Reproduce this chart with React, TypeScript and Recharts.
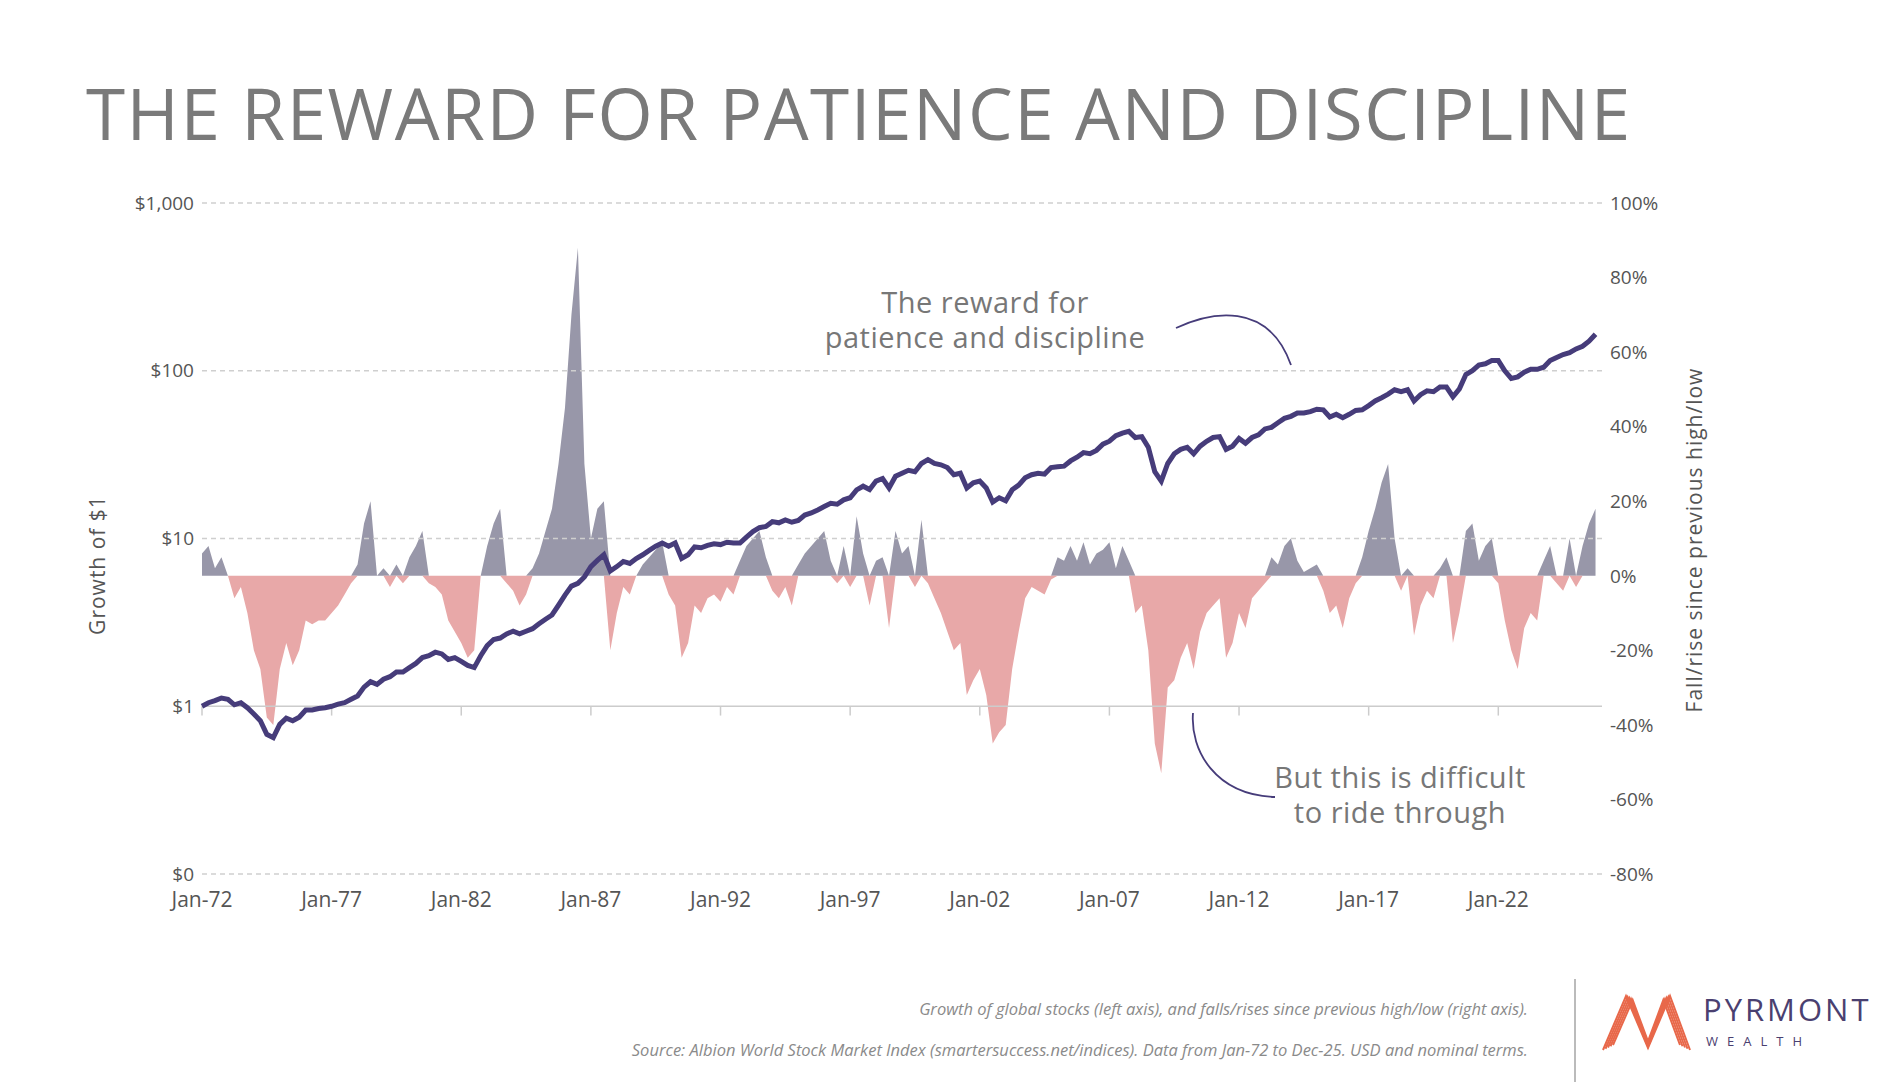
import {
  ComposedChart,
  Area,
  Line,
  XAxis,
  YAxis,
  ReferenceLine,
} from "recharts";

// quarterly, Jan-72 .. Oct-25
const growth: number[] = [
  1.0, 1.05, 1.08, 1.12, 1.1, 1.02, 1.05, 0.98, 0.9, 0.82, 0.68, 0.65,
  0.78, 0.85, 0.82, 0.86, 0.95, 0.95, 0.97, 0.98, 1.0, 1.03, 1.05, 1.1,
  1.15, 1.3, 1.4, 1.35, 1.45, 1.5, 1.6, 1.6, 1.7, 1.8, 1.95, 2.0,
  2.1, 2.05, 1.9, 1.95, 1.85, 1.75, 1.7, 2.0, 2.3, 2.5, 2.55, 2.7,
  2.8, 2.7, 2.8, 2.9, 3.1, 3.3, 3.5, 4.0, 4.6, 5.2, 5.4, 5.9,
  6.8, 7.4, 8.0, 6.4, 6.8, 7.3, 7.1, 7.6, 8.0, 8.5, 9.0, 9.4,
  9.0, 9.4, 7.6, 8.0, 8.9, 8.8, 9.1, 9.3, 9.2, 9.5, 9.4, 9.4,
  10.2, 11.0, 11.6, 11.8, 12.6, 12.4, 12.9, 12.5, 12.8, 13.8, 14.2, 14.8,
  15.5, 16.2, 16.0, 17.0, 17.5, 19.5, 20.5, 19.6, 22.0, 22.8, 20.0, 23.5,
  24.5, 25.5, 25.0, 28.0, 29.5, 28.0, 27.5, 26.5, 24.0, 24.5, 20.0, 21.5,
  22.0, 20.0, 16.5, 17.5, 16.8, 19.5, 20.8, 23.0, 24.0, 24.5, 24.2, 26.5,
  26.8, 27.0, 29.0, 30.5, 32.5, 32.0, 33.5, 36.5, 38.0, 41.0, 42.5, 43.5,
  40.0, 40.5, 35.0, 25.0, 22.0, 28.0, 32.0, 34.0, 35.0, 32.0, 35.5, 38.0,
  40.0, 40.5, 34.0, 35.5, 39.5, 37.0, 40.0, 41.5, 45.0, 46.0, 49.0, 52.0,
  53.5, 56.0, 56.0, 57.0, 59.0, 58.5, 53.0, 55.0, 52.5, 55.0, 58.0, 58.5,
  62.0, 66.0, 69.0, 72.5, 77.0, 75.0, 77.0, 66.0, 72.0, 76.0, 75.0, 80.0,
  80.0, 70.0, 78.0, 95.0, 100, 108, 110, 115, 115, 100, 90, 92,
  98, 102, 102, 105, 115, 120, 125, 128, 135, 140, 150, 165,
];

// fall (-) / rise (+) since previous high/low, %
const swing: number[] = [
  6, 8, 2, 5, 0, -6, -3, -10, -20, -25, -38, -40,
  -25, -18, -24, -20, -12, -13, -12, -12, -10, -8, -5, -2,
  3, 14, 20, 0, 2, -3, 3, -2, 5, 8, 12, -2,
  -3, -5, -12, -15, -18, -22, -20, 0, 8, 14, 18, -2,
  -4, -8, -5, 2, 6, 12, 18, 30, 45, 70, 88, 30,
  10, 18, 20, -20, -10, -3, -5, 0, 3, 5, 7, 9,
  -5, -8, -22, -18, -8, -10, -6, -5, -7, -3, -5, 4,
  8, 10, 12, 5, -4, -6, -3, -8, 3, 6, 8, 10,
  12, 4, -2, 8, -3, 16, 6, -8, 4, 5, -14, 12,
  6, 8, -3, 15, -2, -6, -10, -15, -20, -18, -32, -28,
  -25, -32, -45, -42, -40, -25, -15, -6, -3, -4, -5, -1,
  5, 4, 8, 4, 9, 3, 6, 7, 9, 2, 8, 4,
  -10, -8, -20, -45, -53, -30, -28, -22, -18, -25, -15, -10,
  -8, -6, -22, -18, -10, -14, -6, -4, -2, 5, 3, 8,
  10, 4, 1, 2, 3, -4, -10, -8, -14, -6, -2, 5,
  12, 18, 25, 30, 10, -4, 2, -16, -8, -4, -6, 2,
  5, -18, -10, 12, 14, 4, 8, 10, -2, -12, -20, -25,
  -14, -10, -12, 4, 8, -2, -4, 10, -3, 8, 14, 18,
];

const xTicks = [1972, 1977, 1982, 1987, 1992, 1997, 2002, 2007, 2012, 2017, 2022];
const leftTicks = [0.1, 1, 10, 100, 1000];
const leftLabels = ["$0", "$1", "$10", "$100", "$1,000"];
const rightTicks = [-80, -60, -40, -20, 0, 20, 40, 60, 80, 100];

const data = growth.map((g, i) => ({
  t: 1972 + i / 4,
  growth: g,
  rise: Math.max(swing[i], 0),
  fall: Math.min(swing[i], 0),
}));

const FONT = "'Open Sans', sans-serif";
const tickStyle = { fontSize: 19, fill: "#555", fontFamily: FONT };

export default function App() {
  return (
    <div style={{ position: "absolute", left: 0, top: 0, width: 1886, height: 1082, background: "#fff", fontFamily: FONT, overflow: "hidden" }}>
      <div style={{ position: "absolute", left: 86, top: 64, fontSize: 71, color: "#7a7a7a", fontWeight: 400, letterSpacing: 1.5, whiteSpace: "nowrap" }}>
        THE REWARD FOR PATIENCE AND DISCIPLINE
      </div>

      <div style={{ position: "absolute", left: 0, top: 0 }}>
        <ComposedChart width={1886} height={1000} data={data} margin={{ top: 203, right: 194, bottom: 76, left: 122 }}>
          <XAxis
            dataKey="t"
            type="number"
            domain={[1972, 2026]}
            ticks={xTicks}
            tickFormatter={(v: number) => "Jan-" + String(v).slice(2)}
            tick={{ ...tickStyle, fontSize: 21 }}
            tickLine={false}
            axisLine={false}
            tickMargin={12}
            height={50}
          />
          <YAxis
            yAxisId="left"
            scale="log"
            domain={[0.1, 1000]}
            ticks={leftTicks}
            tickFormatter={(v: number) => leftLabels[leftTicks.indexOf(v)]}
            tick={tickStyle}
            tickLine={false}
            axisLine={false}
            allowDataOverflow
            width={80}
          />
          <YAxis
            yAxisId="right"
            orientation="right"
            domain={[-80, 100]}
            ticks={rightTicks}
            tickFormatter={(v: number) => v + "%"}
            tick={tickStyle}
            tickLine={false}
            axisLine={false}
            width={90}
          />
          {[0.1, 10, 100, 1000].map((v) => (
            <ReferenceLine key={v} yAxisId="left" y={v} stroke="#cfcfcf" strokeDasharray="5 4" strokeWidth={1.5} />
          ))}
          <Area yAxisId="right" dataKey="rise" type="linear" stroke="none" fill="#9897a9" fillOpacity={1} isAnimationActive={false} />
          <Area yAxisId="right" dataKey="fall" type="linear" stroke="none" fill="#e8a8a8" fillOpacity={1} isAnimationActive={false} />
          <ReferenceLine yAxisId="left" y={1} stroke="#cccccc" strokeWidth={1.5} />
          {xTicks.map((t) => (
            <ReferenceLine
              key={t}
              yAxisId="left"
              segment={[{ x: t, y: 1 }, { x: t, y: 0.88 }]}
              stroke="#cccccc"
              strokeWidth={1.5}
            />
          ))}
          <Line yAxisId="left" dataKey="growth" type="linear" stroke="#463c7a" strokeWidth={5} dot={false} isAnimationActive={false} />
        </ComposedChart>
      </div>

      <div style={{ position: "absolute", left: 97, top: 565, transform: "translate(-50%,-50%) rotate(-90deg)", fontSize: 21, color: "#555", whiteSpace: "nowrap", letterSpacing: 1 }}>
        Growth of $1
      </div>
      <div style={{ position: "absolute", left: 1694, top: 540, transform: "translate(-50%,-50%) rotate(-90deg)", fontSize: 21, color: "#555", whiteSpace: "nowrap", letterSpacing: 1 }}>
        Fall/rise since previous high/low
      </div>

      <div style={{ position: "absolute", left: 985, top: 284, transform: "translateX(-50%)", fontSize: 29, lineHeight: "35px", color: "#777", textAlign: "center", whiteSpace: "nowrap", letterSpacing: 0.5 }}>
        The reward for<br />patience and discipline
      </div>
      <div style={{ position: "absolute", left: 1400, top: 759, transform: "translateX(-50%)", fontSize: 29, lineHeight: "35px", color: "#777", textAlign: "center", whiteSpace: "nowrap", letterSpacing: 0.5 }}>
        But this is difficult<br />to ride through
      </div>
      <svg width={1886} height={1082} style={{ position: "absolute", left: 0, top: 0, pointerEvents: "none" }}>
        <path d="M1176,328 C1210,312 1268,300 1291,365" fill="none" stroke="#463c7a" strokeWidth={1.8} />
        <path d="M1193,713 C1190,750 1215,795 1275,797" fill="none" stroke="#463c7a" strokeWidth={1.8} />
        <line x1={1575} y1={979} x2={1575} y2={1082} stroke="#bbb" strokeWidth={2} />
        {[0, 5, 10, 15, 20].map((o) => (
          <path key={o} d={`M${1603 + o / 2},${1050 - o / 4} L${1626 + o / 3},${996 + o / 5} L${1648},${1048 - o / 3} L${1670 - o / 3},${996 + o / 5} L${1690 - o / 2},${1050 - o / 4}`} fill="none" stroke="#e8684a" strokeWidth={2} />
        ))}
      </svg>

      <div style={{ position: "absolute", right: 358, top: 997, fontSize: 16.5, color: "#8a8a8a", fontStyle: "italic", whiteSpace: "nowrap" }}>
        Growth of global stocks (left axis), and falls/rises since previous high/low (right axis).
      </div>
      <div style={{ position: "absolute", right: 358, top: 1038, fontSize: 16.5, color: "#8a8a8a", fontStyle: "italic", whiteSpace: "nowrap" }}>
        Source: Albion World Stock Market Index (smartersuccess.net/indices). Data from Jan-72 to Dec-25. USD and nominal terms.
      </div>
      <div style={{ position: "absolute", left: 1703, top: 990, fontSize: 31, lineHeight: "38px", color: "#4a4070", letterSpacing: 3, whiteSpace: "nowrap" }}>PYRMONT</div>
      <div style={{ position: "absolute", left: 1706, top: 1033, fontSize: 13, lineHeight: "16px", color: "#4a4070", letterSpacing: 9, whiteSpace: "nowrap" }}>WEALTH</div>
    </div>
  );
}
